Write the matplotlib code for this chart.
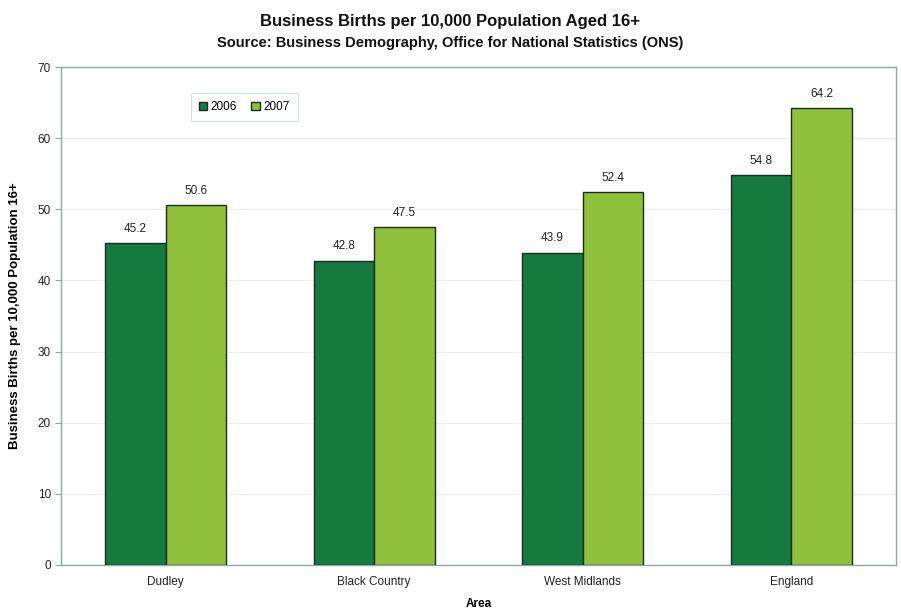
import numpy as np
import matplotlib.pyplot as plt

plt.rcParams['font.family'] = ['Liberation Sans', 'DejaVu Sans']

areas = ['Dudley', 'Black Country', 'West Midlands', 'England']
years = ['2006', '2007']
births_2006 = [45.2, 42.8, 43.9, 54.8]
births_2007 = [50.6, 47.5, 52.4, 64.2]

c2006 = '#157a3d'
c2007 = '#8fc03c'
edge = '#1f2a1f'

fig = plt.figure(figsize=(9.01, 6.10), dpi=100)
ax = fig.add_axes([0.068, 0.074, 0.926, 0.816])

x = np.arange(len(areas))
w = 0.29
b1 = ax.bar(x - w / 2, births_2006, w, color=c2006, edgecolor=edge, linewidth=1.0, label=years[0], zorder=3)
b2 = ax.bar(x + w / 2, births_2007, w, color=c2007, edgecolor=edge, linewidth=1.0, label=years[1], zorder=3)

for bars in (b1, b2):
    for b in bars:
        ax.annotate(f'{b.get_height():.1f}', (b.get_x() + b.get_width() / 2, b.get_height()),
                    xytext=(0, 6), textcoords='offset points', ha='center', va='bottom',
                    fontsize=8.5, color='#222222')

ax.set_xlim(-0.5, 3.5)
ax.set_ylim(0, 70)
ax.set_yticks(range(0, 71, 10))
ax.set_xticks(x)
ax.set_xticklabels(areas)
ax.tick_params(axis='both', labelsize=8.5, colors='#222222', length=4, color='#8fa5b5')
ax.tick_params(axis='x', length=0, pad=8)
ax.grid(axis='y', color='#e6eef4', linewidth=0.8, zorder=0)
for s in ax.spines.values():
    s.set_color('#8fa5b5')
    s.set_linewidth(1.0)

ax.set_xlabel('Area', fontsize=8.5, fontweight='bold', labelpad=7)
ax.set_ylabel('Business Births per 10,000 Population 16+', fontsize=9.5, fontweight='bold', labelpad=12)

fig.text(0.5, 0.964, 'Business Births per 10,000 Population Aged 16+', ha='center', va='center',
         fontsize=12, fontweight='bold', color='#111111')
fig.text(0.5, 0.929, 'Source: Business Demography, Office for National Statistics (ONS)', ha='center',
         va='center', fontsize=10.5, fontweight='bold', color='#111111')

leg = ax.legend(loc='upper left', bbox_to_anchor=(0.148, 0.96), ncol=2, fontsize=8.5, frameon=True,
                fancybox=False, handlelength=0.7, handleheight=0.7, handletextpad=0.3,
                columnspacing=1.2, borderpad=0.7)
leg.get_frame().set_edgecolor('#c8d8e4')
leg.get_frame().set_linewidth(0.8)

fig.savefig('out.png', dpi=100)
